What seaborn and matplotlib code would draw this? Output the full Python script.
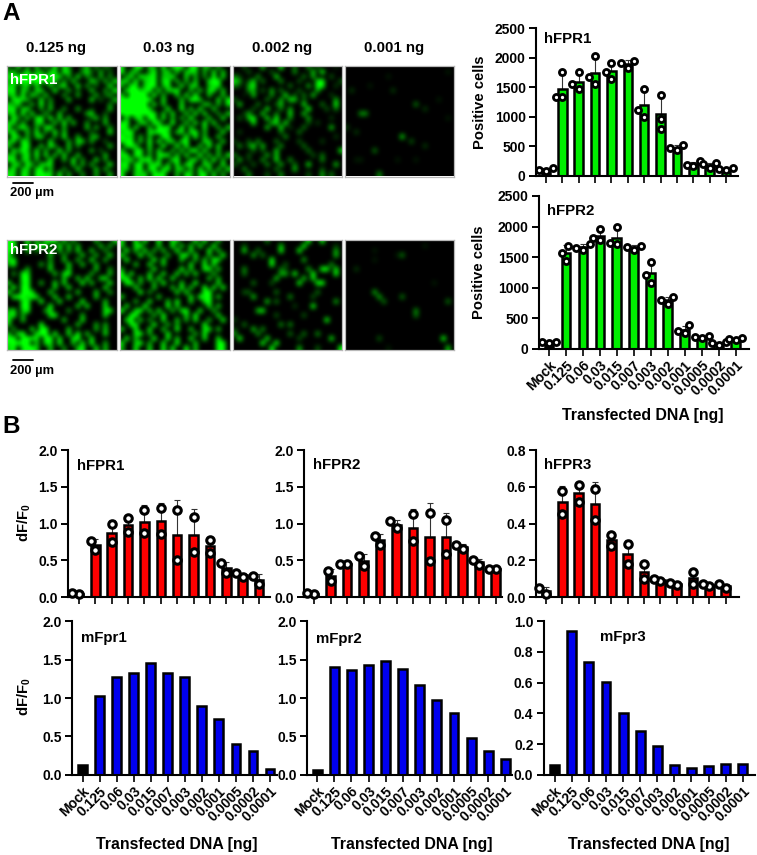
import numpy as np
import pandas as pd
import matplotlib as mpl

mpl.use('Agg')

import matplotlib.pyplot as plt
import seaborn as sns
from matplotlib.colors import LinearSegmentedColormap

sns.set_theme(style='ticks')
plt.rcParams['font.family'] = ['Liberation Sans', 'DejaVu Sans']
plt.rcParams['font.weight'] = 'bold'
plt.rcParams['axes.labelweight'] = 'bold'
plt.rcParams['axes.labelcolor'] = 'black'
plt.rcParams['text.color'] = 'black'
plt.rcParams['xtick.color'] = 'black'
plt.rcParams['ytick.color'] = 'black'
plt.rcParams['mathtext.default'] = 'regular'

W, H = 757, 855

DOSES = ['Mock', '0.125', '0.06', '0.03', '0.015', '0.007', '0.003', '0.002',
         '0.001', '0.0005', '0.0002', '0.0001']

# panel A, cell counts per replicate
A_HFPR1 = [[95, 135, 85], [1750, 1337, 1330], [1755, 1467, 1550], [2025, 1665, 1550],
           [1900, 1760, 1636], [1940, 1822, 1907], [1467, 1110, 1000], [1365, 953, 790],
           [519, 434, 462], [243, 164, 186], [209, 124, 192], [135, 96, 113]]
A_HFPR2 = [[98, 115, 104], [1687, 1572, 1441], [1714, 1616, 1643], [1954, 1780, 1818],
           [1993, 1714, 1725], [1687, 1616, 1670], [1419, 1206, 1081], [852, 731, 797],
           [382, 251, 284], [213, 169, 196], [115, 60, 87], [158, 142, 169]]

# panel B, dF/F0 per replicate
B_HFPR1 = [[0.04, 0.055], [0.77, 0.64], [1.0, 0.75], [1.07, 0.88], [1.185, 0.87], [1.21, 0.86],
           [1.18, 0.51], [1.095, 0.61], [0.78, 0.60], [0.46, 0.335], [0.325, 0.28], [0.295, 0.177]]
B_HFPR2 = [[0.04, 0.06], [0.36, 0.22], [0.45, 0.45], [0.56, 0.43], [0.835, 0.71], [0.935, 1.035],
           [1.125, 0.77], [1.147, 0.495], [1.05, 0.585], [0.655, 0.71], [0.44, 0.51], [0.38, 0.38]]
B_HFPR3 = [[0.02, 0.05], [0.58, 0.45], [0.61, 0.52], [0.59, 0.42], [0.34, 0.28], [0.29, 0.18],
           [0.18, 0.10], [0.09, 0.10], [0.065, 0.08], [0.14, 0.07], [0.06, 0.07], [0.05, 0.07]]

MFPR1 = [0.13, 1.03, 1.27, 1.33, 1.45, 1.33, 1.28, 0.90, 0.72, 0.40, 0.31, 0.08]
MFPR2 = [0.06, 1.40, 1.36, 1.43, 1.48, 1.38, 1.17, 0.98, 0.80, 0.48, 0.31, 0.20]
MFPR3 = [0.065, 0.94, 0.735, 0.605, 0.405, 0.285, 0.185, 0.065, 0.045, 0.055, 0.07, 0.07]

IMG_R1_0125 = ["308050705090850037050420", "570390660880970058306030", "889999999888060805206050",
               "598998998880507000850608", "780670800706900805030090", "890850780090060300700509",
               "680908507000500600060360", "089760080500070000803007", "758006090600000000000050",
               "890780050700500600200070", "680908006007000006800300", "095070890908070000370600",
               "780600780070907005000700", "806950608900600007060050", "690070905090700000300090",
               "097060780050900600570000", "680970000800060870600300", "700890070950070500000070",
               "085970806009060000603000", "670690908070800700000700", "890780600900609050080500",
               "078096078800007060600090", "590780890700500800070600", "880970998809060050060070"]
IMG_R1_003 = ["800890760907980890750600", "906700590680707870608070", "058097890769008060509080",
              "780907890890706070089900", "609807990690080780068800", "089978908078900607088070",
              "709999090600708090070070", "999989900800070997000809", "998999080700080000760608",
              "999999700090090708007000", "899989980708007080800507", "080790990806060900070080",
              "890078098009007080908000", "980800709890090700800607", "799000889970780890600080",
              "978060700990009090700700", "899070909078089000870070", "089700800900909007090800",
              "700890708006070890800600", "890980608980708009070708", "678079908008900780709060",
              "890890789070908900870090", "780790890890780709080708", "900878098900709708908060"]
IMG_R1_0002 = ["003000700090040050300010", "000300003000050007090000", "420005000800000406000300",
               "850370400050003000890003", "420690000000400060990020", "000560306040003000600000",
               "001070005008030407000200", "300000040060870300000060", "070004000370000800040090",
               "000030080040600090003040", "002600700400800700000000", "030790080900500060000200",
               "000080006808000030200000", "000000070080200400000700", "020000000040004000000000",
               "000000000005000000000020", "200305000400003000020000", "050480700050000400000000",
               "000030300700000040000008", "400300060700000003040000", "060200500800500000050000",
               "300030050060040080000070", "005000000400070000030000", "000500030050000030060400"]
IMG_R1_0001 = ["000000000000000000000000", "000000000000000000000010", "000000000100000000000000",
               "000000000000000000000000", "000001000000000000000000", "020000000020000000000000",
               "000000000000000000000000", "000000000000000000001000", "000000000000000400000000",
               "000000000000000002000000", "000550000000000000000000", "000000000000000000000010",
               "000000000000000000000000", "200000000000000000000000", "002000000000000000000000",
               "000000000000700000000000", "000000000000003000000000", "000000000000000002000000",
               "000000400000000000000000", "000000000000000000000000", "001100000001000100000000",
               "000000000000000000000000", "000000000000000000000000", "000000050000000000000000"]
IMG_R2_0125 = ["980090708890705000060007", "990080796009070600007060", "890070500807060800700500",
               "800000000700500070060080", "790000000500700600800600", "590000060700080070060000",
               "000060000800070000070050", "050980000070890000600070", "000990000000700708007800",
               "700890060080800090700090", "090990000070080000000800", "800998000700000700070060",
               "089979800080080000070000", "000890090008000090000700", "000990000900000708000800",
               "680790006800050000000890", "790600000890000060000800", "800700000000700080000000",
               "600000090000000700060600", "050008099000070000060700", "608900899090080907000800",
               "990998809908008900800000", "899990708809007080900600", "790899700700500790080700"]
IMG_R2_003 = ["800908009008600080800600", "700890007009070708009000", "090708060700900800090700",
              "800090700060089080060090", "090000090800070060709800", "000700800700000800908000",
              "500000080000090700890700", "908000700800807080006000", "890070908008000000070600",
              "099060060900070090000800", "000800070007090700908090", "000090500000808000990000",
              "700000007000000809890700", "000600800070900700890000", "080009000090700000080700",
              "900890708006089008006000", "009900060900008090000800", "089070500800706080060090",
              "009800090060600000900000", "700900800700900700880700", "000890600090000060900000",
              "090700090080700800800800", "800790600800900070000990", "600900800908009070000990"]
IMG_R2_0002 = ["000000040000000090090000", "003000000070000900000020", "008004000090009000000060",
               "000060400000000000000070", "000000009000000600000000", "000000009003000000000500",
               "005000000042000060099080", "004000000066090009000090", "000000000700000708000000",
               "000040003000009000990000", "000000000000000000000000", "003300000400000000400000",
               "000070000000500003000000", "000000070400000000000060", "000000000000020009000000",
               "000007800000000000000000", "000000000300000300000000", "200000000000000000009000",
               "004000000050500000000000", "200070500000000000000000", "500005000000400400500000",
               "090000080000003000000800", "000000900900000000000000", "000000009000006000300009"]
IMG_R2_0001 = ["000000000000000000000000", "000000000000000001000000", "000000100000000000000000",
               "000000000001400000000000", "000000100000000000000000", "000000000000000000000000",
               "002000000000000000000000", "000000000000000000000000", "000000000000000000000000",
               "000000000000000000010000", "000000000000000000000000", "000000600000000000000000",
               "000000060000400000000000", "000000004000000000000040", "000000000000000000000000",
               "000000000000000500000000", "000000000000000400000000", "000000000000000000000000",
               "000000000000000000000000", "000000000000000000000000", "000000000000000000000000",
               "000000030000000000000900", "000000000000000000000000", "000000000100000000000070"]

IMG_LABELS = ['0.125 ng', '0.03 ng', '0.002 ng', '0.001 ng']


def px_x(x):
    return x / W


def px_y(y):
    return 1 - y / H


fig = plt.figure(figsize=(W / 100, H / 100), dpi=100)
black_green = LinearSegmentedColormap.from_list('black_green', ['#000000', '#00ff00'])


def add_axes_px(left, right, top, bottom):
    return fig.add_axes([px_x(left), px_y(bottom), (right - left) / W, (bottom - top) / H])


def plot_micrograph(rows, left, top):
    ax = add_axes_px(left, left + 109.5, top, top + 110.5)
    grid = np.array([[int(c) for c in row.ljust(24, '0')[:24]] for row in rows])
    ax.imshow(grid, cmap=black_green, vmin=0, vmax=8.5, interpolation='bicubic', aspect='auto')
    ax.set_xticks([])
    ax.set_yticks([])
    for spine in ax.spines.values():
        spine.set_color('#b8b8b8')
        spine.set_linewidth(0.9)
    return ax


def plot_dose_bars(points, colour, ymax, yticks, box, ticks, title, title_xy, dot_size=4.4, dot_edge=2.0,
                   tick_fmt='%.1f'):
    """
    Draw one dose response panel: bars with optional replicate dots and SD whiskers.

    :param box: left, right, top, bottom of the axes in pixels.
    :param ticks: pixel position of the first and last bar.
    """
    left, right, top, bottom = box
    ax = add_axes_px(left, right, top, bottom)
    palette = ['black'] + [colour] * (len(DOSES) - 1)

    replicated = np.ndim(points) == 2
    if replicated:
        n_rep = len(points[0])
        df = pd.DataFrame({'dose': np.repeat(DOSES, n_rep), 'value': np.ravel(points)})
    else:
        df = pd.DataFrame({'dose': DOSES, 'value': points})

    sns.barplot(data=df, x='dose', y='value', hue='dose', order=DOSES, hue_order=DOSES,
                palette=palette, legend=False, errorbar=None, width=0.52, saturation=1,
                edgecolor='black', linewidth=1.8, ax=ax, zorder=2)

    if replicated:
        stats = df.groupby('dose', sort=False)['value'].agg(['mean', 'std'])
        ax.errorbar(range(len(DOSES)), stats['mean'], yerr=[np.zeros(len(DOSES)), stats['std']],
                    fmt='none', ecolor='#333333', elinewidth=0.8, capsize=2, capthick=0.8, zorder=1)
        sns.swarmplot(data=df, x='dose', y='value', order=DOSES, color='white', edgecolor='black',
                      size=dot_size, linewidth=dot_edge, warn_thresh=1, ax=ax,
                      clip_on=False, zorder=3)

    # pixel scale of the categorical axis comes from first and last bar
    step = (ticks[1] - ticks[0]) / (len(DOSES) - 1)
    ax.set_xlim((left - ticks[0]) / step, (right - ticks[0]) / step)
    ax.set_ylim(0, ymax)
    ax.set_yticks(yticks)
    ax.set_yticklabels([tick_fmt % v for v in yticks])
    ax.set_xlabel('')
    ax.set_ylabel('')
    ax.tick_params(axis='y', length=5.4, width=1.4, labelsize=10, pad=2)
    ax.tick_params(axis='x', length=5, width=1.2, labelsize=10, pad=2)
    sns.despine(ax=ax)
    for side in ['left', 'bottom']:
        ax.spines[side].set_linewidth(1.5)
        ax.spines[side].set_color('black')
    ax.patch.set_alpha(0)
    ax.text(px_x(title_xy[0]), px_y(title_xy[1]), title, transform=fig.transFigure,
            fontsize=10.8, va='center', ha='left')
    return ax


def label_doses(ax):
    ax.set_xticks(range(len(DOSES)))
    ax.set_xticklabels(DOSES, rotation=45, ha='right', rotation_mode='anchor', fontsize=10)


def set_xlabel_px(ax, x, y):
    ax.set_xlabel('Transfected DNA [ng]', fontsize=11.4, va='center')
    ax.xaxis.set_label_coords(px_x(x), px_y(y), transform=fig.transFigure)


def set_ylabel_px(ax, text, x, y):
    ax.set_ylabel(text, fontsize=10.6, va='center')
    ax.yaxis.set_label_coords(px_x(x), px_y(y), transform=fig.transFigure)


# panel A micrographs
img_lefts = [7.3, 120, 232.7, 345]
row1 = [IMG_R1_0125, IMG_R1_003, IMG_R1_0002, IMG_R1_0001]
row2 = [IMG_R2_0125, IMG_R2_003, IMG_R2_0002, IMG_R2_0001]
for left, rows, label in zip(img_lefts, row1, IMG_LABELS):
    plot_micrograph(rows, left, 66)
    fig.text(px_x(left + 49), px_y(48), label, fontsize=10.8, ha='center', va='center')
for left, rows in zip(img_lefts, row2):
    plot_micrograph(rows, left, 239.7)

fig.text(px_x(10), px_y(80), 'hFPR1', color='white', fontsize=10.8, va='center')
fig.text(px_x(10), px_y(250), 'hFPR2', color='white', fontsize=10.8, va='center')

for y_bar, y_text in [(182.7, 193), (360, 371)]:
    fig.add_artist(plt.Line2D([px_x(13.3), px_x(32.5)], [px_y(y_bar), px_y(y_bar)], color='black', lw=1.3))
    fig.text(px_x(9.5), px_y(y_text), '200 µm', fontsize=9.3, va='center')

fig.text(px_x(2), px_y(14), 'A', fontsize=17.5, va='center')
fig.text(px_x(2), px_y(426), 'B', fontsize=17.5, va='center')

# panel A bars
count_ticks = [0, 500, 1000, 1500, 2000, 2500]
ax = plot_dose_bars(A_HFPR1, '#00ee00', 2500, count_ticks, (536, 738, 28, 175.7), (546, 726),
                    'hFPR1', (544, 39), tick_fmt='%d')
ax.set_xticklabels([])
set_ylabel_px(ax, 'Positive cells', 480, 102)

ax = plot_dose_bars(A_HFPR2, '#00ee00', 2500, count_ticks, (539, 749, 196, 348.7), (549, 735.7),
                    'hFPR2', (547, 210.7), tick_fmt='%d')
label_doses(ax)
set_xlabel_px(ax, 643, 415)
set_ylabel_px(ax, 'Positive cells', 479, 272)

# panel B, human receptors with replicates
ax = plot_dose_bars(B_HFPR1, '#ff0000', 2.0, [0, 0.5, 1, 1.5, 2], (68, 270, 450, 597.3), (79, 259),
                    'hFPR1', (77, 466), dot_size=5.4, dot_edge=2.2)
ax.set_xticklabels([])
set_ylabel_px(ax, 'dF/F$_0$', 24, 523)

ax = plot_dose_bars(B_HFPR2, '#ff0000', 2.0, [0, 0.5, 1, 1.5, 2], (304, 502, 450, 597.3), (314, 495.7),
                    'hFPR2', (313, 465), dot_size=5.4, dot_edge=2.2)
ax.set_xticklabels([])

ax = plot_dose_bars(B_HFPR3, '#ff0000', 0.8, [0, 0.2, 0.4, 0.6, 0.8], (536, 738.7, 450, 597.3), (546, 725.7),
                    'hFPR3', (544, 465), dot_size=5.4, dot_edge=2.2)
ax.set_xticklabels([])

# panel B, mouse receptors
ax = plot_dose_bars(MFPR1, '#0000ee', 2.0, [0, 0.5, 1, 1.5, 2], (72, 277, 621.3, 774.7), (82.7, 270),
                    'mFpr1', (81, 638))
label_doses(ax)
set_xlabel_px(ax, 177, 844)
set_ylabel_px(ax, 'dF/F$_0$', 24, 697)

ax = plot_dose_bars(MFPR2, '#0000ee', 2.0, [0, 0.5, 1, 1.5, 2], (307, 512, 621.3, 774.7), (317.3, 505.3),
                    'mFpr2', (316, 639))
label_doses(ax)
set_xlabel_px(ax, 412, 844)

ax = plot_dose_bars(MFPR3, '#0000ee', 1.0, [0, 0.2, 0.4, 0.6, 0.8, 1.0], (543.7, 755, 621.3, 774.7), (554.7, 742.7),
                    'mFpr3', (600, 637))
label_doses(ax)
set_xlabel_px(ax, 649, 844)

fig.savefig('out.png', dpi=100, facecolor='white')
